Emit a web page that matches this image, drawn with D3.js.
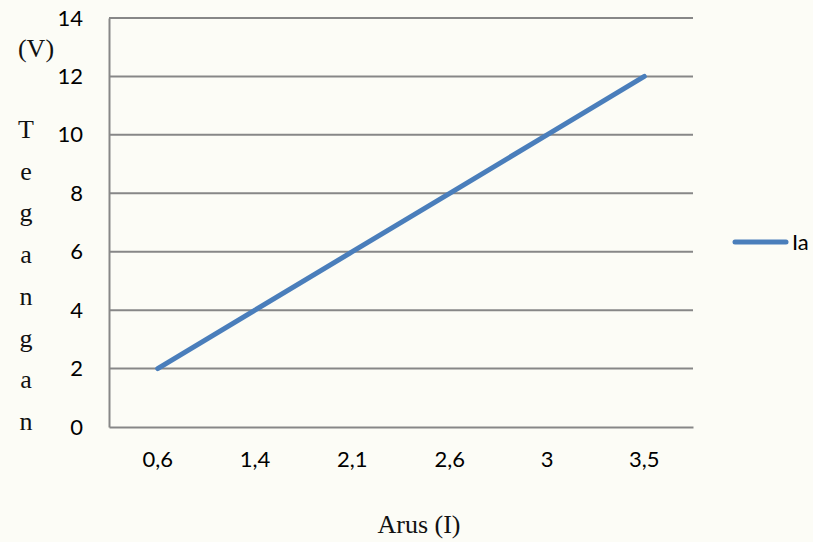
<!DOCTYPE html>
<html>
<head>
<meta charset="utf-8">
<script src="https://cdn.jsdelivr.net/npm/d3@7"></script>
<style>
  html, body { margin: 0; padding: 0; background: #fcfcf6; }
  svg { display: block; }
</style>
</head>
<body>
<div id="chart"></div>
<script>
// Current (Arus) categories and measured voltage (Tegangan) for series "Ia"
const categories = ["0,6", "1,4", "2,1", "2,6", "3", "3,5"];
const seriesName = "Ia";
const seriesValues = [2, 4, 6, 8, 10, 12];
const yTicks = [0, 2, 4, 6, 8, 10, 12, 14];
const yAxisLetters = ["T", "e", "g", "a", "n", "g", "a", "n"];

const W = 813, H = 542;
const plot = { left: 109, right: 693, top: 18, bottom: 427 };

const svg = d3.select("#chart").append("svg")
  .attr("width", W).attr("height", H);

svg.append("rect").attr("width", W).attr("height", H).attr("fill", "#fcfcf6");

const x = d3.scaleBand().domain(categories).range([plot.left, plot.right]);
const y = d3.scaleLinear().domain([0, 14]).range([plot.bottom, plot.top]);
const xc = d => x(d) + x.bandwidth() / 2;

const gridColor = "#878787";
const tickFont = "Lato, 'Open Sans', sans-serif";
const serif = "'Liberation Serif', 'Times New Roman', serif";

// horizontal gridlines
svg.append("g").selectAll("line").data(yTicks.filter(t => t > 0)).join("line")
  .attr("x1", plot.left).attr("x2", plot.right)
  .attr("y1", d => y(d)).attr("y2", d => y(d))
  .attr("stroke", gridColor).attr("stroke-width", 2);

// y axis
const yAxis = svg.append("g").attr("transform", `translate(${plot.left},0)`)
  .call(d3.axisLeft(y).tickValues(yTicks).tickSize(0).tickPadding(26));
yAxis.select(".domain").attr("stroke", gridColor).attr("stroke-width", 2);
yAxis.selectAll("text").attr("font-family", tickFont).attr("font-size", 22).attr("fill", "#000");

// x axis
const xAxis = svg.append("g").attr("transform", `translate(0,${plot.bottom})`)
  .call(d3.axisBottom(x).tickSize(0).tickPadding(24));
xAxis.select(".domain").attr("stroke", gridColor).attr("stroke-width", 2);
xAxis.selectAll("text").attr("font-family", tickFont).attr("font-size", 22).attr("fill", "#000");

// data line
const line = d3.line().x((d, i) => xc(categories[i])).y(d => y(d));
svg.append("path").datum(seriesValues)
  .attr("d", line).attr("fill", "none")
  .attr("stroke", "#4a7ebb").attr("stroke-width", 5)
  .attr("stroke-linecap", "round").attr("stroke-linejoin", "round");

// y axis title: unit and stacked letters
svg.append("text").attr("x", 36).attr("y", 57).attr("text-anchor", "middle")
  .attr("font-family", serif).attr("font-size", 26).attr("fill", "#111").text("(V)");
svg.append("g").selectAll("text").data(yAxisLetters).join("text")
  .attr("x", 26).attr("y", (d, i) => 138 + i * 41.7)
  .attr("text-anchor", "middle")
  .attr("font-family", serif).attr("font-size", 26).attr("fill", "#111")
  .text(d => d);

// x axis title
svg.append("text").attr("x", 419).attr("y", 533).attr("text-anchor", "middle")
  .attr("font-family", serif).attr("font-size", 26).attr("fill", "#111").text("Arus (I)");

// legend
const lg = svg.append("g").attr("transform", "translate(0,242)");
lg.append("line").attr("x1", 735).attr("x2", 786).attr("y1", 0).attr("y2", 0)
  .attr("stroke", "#4a7ebb").attr("stroke-width", 5).attr("stroke-linecap", "round");
lg.append("text").attr("x", 792).attr("y", 0).attr("dy", "0.35em")
  .attr("font-family", tickFont).attr("font-size", 22).attr("fill", "#000").text(seriesName);
</script>
</body>
</html>
